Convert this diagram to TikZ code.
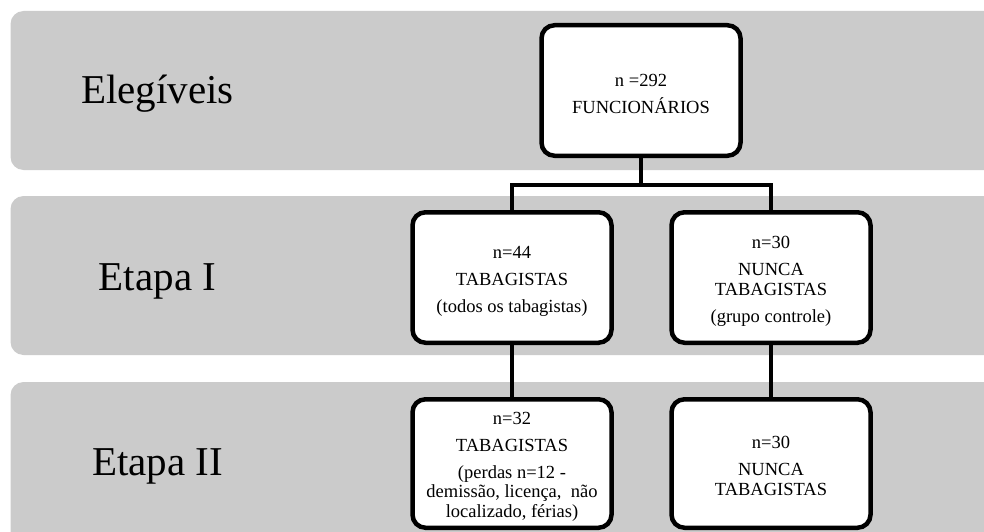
\documentclass[tikz,border=0pt]{standalone}
\usepackage{fontspec}
\setmainfont{Liberation Serif}
\definecolor{bandgray}{RGB}{203,203,203}
\begin{document}
\begin{tikzpicture}[x=1pt,y=-1pt,
  band/.style={fill=bandgray, rounded corners=13pt},
  stagelabel/.style={anchor=base, font=\fontsize{41}{48}\selectfont},
  box/.style={draw=black, line width=4.5pt, fill=white, rounded corners=13pt,
    minimum width=199pt, minimum height=130.5pt, inner sep=0pt},
  boxtext/.style={align=center, inner sep=0pt,
    font=\fontsize{18.5}{19.5}\selectfont},
  link/.style={draw=black, line width=4pt}]
\useasboundingbox (0,0) rectangle (984,532);
\begin{scope}
\clip (0,0) rectangle (984,532);
\fill[band] (10.5,11) rectangle (1010,170);
\fill[band] (10.5,196) rectangle (1010,355);
\fill[band] (10.5,382) rectangle (1010,560);
\end{scope}
\node[stagelabel] (lab0) at (157.5,104) {Elegíveis};
\node[stagelabel] (lab1) at (157.5,290) {Etapa I};
\node[stagelabel] (lab2) at (157.5,475) {Etapa II};
\node[box] (top) at (641,90.5) {};
\node[box] (l1) at (512,277.5) {};
\node[box] (r1) at (771,277.5) {};
\node[box, minimum height=128.5pt] (l2) at (512,463.5) {};
\node[box, minimum height=128.5pt] (r2) at (771,463.5) {};
\node[boxtext] (topt) at ([yshift=-3pt]top.center) {n =292\\[7.5pt]FUNCIONÁRIOS};
\node[boxtext] (l1t) at ([yshift=-4pt]l1.center) {n=44\\[7.5pt]TABAGISTAS\\[7.5pt](todos os tabagistas)};
\node[boxtext] (r1t) at ([yshift=-4pt]r1.center) {n=30\\[7.5pt]NUNCA\\TABAGISTAS\\[7.5pt](grupo controle)};
\node[boxtext] (l2t) at ([yshift=-3pt]l2.center) {n=32\\[7.5pt]TABAGISTAS\\[7.5pt](perdas n=12 -\\demissão, licença,\ \ não\\localizado, férias)};
\node[boxtext] (r2t) at ([yshift=-2.5pt]r2.center) {n=30\\[7.5pt]NUNCA\\TABAGISTAS};
\coordinate (split) at (641,185);
\draw[link] (top.south) -- (split);
\draw[link] (l1.north) |- (split) -| (r1.north);
\draw[link] (l1) -- (l2);
\draw[link] (r1) -- (r2);
\end{tikzpicture}
\end{document}
